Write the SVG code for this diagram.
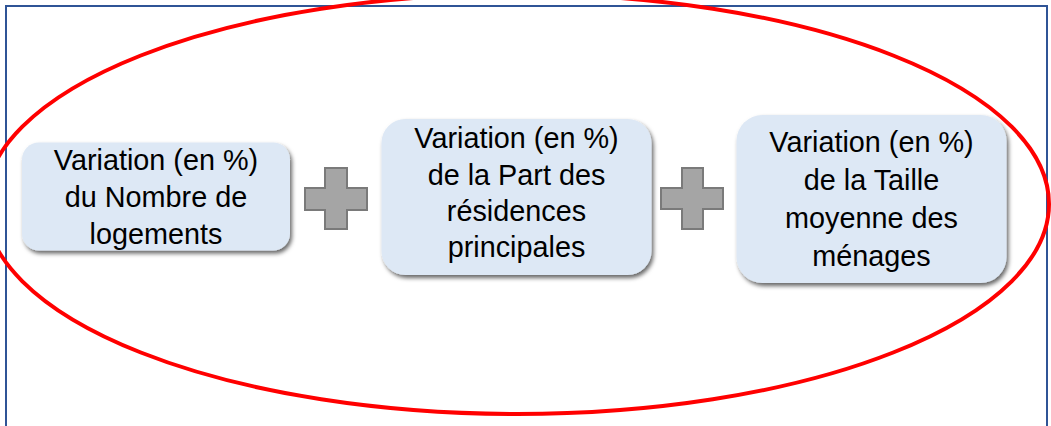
<svg xmlns="http://www.w3.org/2000/svg" width="1051" height="426" viewBox="0 0 1051 426">
  <defs>
    <filter id="shadow" x="-10%" y="-10%" width="125%" height="130%">
      <feDropShadow dx="2" dy="3" stdDeviation="2.2" flood-color="#000" flood-opacity="0.6"/>
    </filter>
  </defs>
  <style>
    .box { fill: #DDE8F5; filter: url(#shadow); }
    .lbl { font-family: "Liberation Sans", Arial, sans-serif; font-size: 28.8px; fill: #000; text-anchor: middle; }
    .plus { fill: #A5A5A5; stroke: #7A7A7A; stroke-width: 2; }
    .frame { fill: none; stroke: #2F5496; stroke-width: 2; }
    .ring { fill: none; stroke: #FF0000; stroke-width: 4; }
  </style>
  <rect x="0" y="0" width="1051" height="426" fill="#FFFFFF"/>
  <rect class="frame" x="6" y="6" width="1041" height="440"/>
  <ellipse class="ring" cx="517" cy="204" rx="532" ry="210"/>

  <g id="node-logements">
    <rect class="box" x="22" y="142.5" width="268" height="108" rx="17" ry="17"/>
    <text class="lbl" x="156" y="170">Variation (en %)</text>
    <text class="lbl" x="156" y="207">du Nombre de</text>
    <text class="lbl" x="156" y="244">logements</text>
  </g>

  <g id="node-residences">
    <rect class="box" x="381.5" y="119" width="270" height="156" rx="24" ry="24"/>
    <text class="lbl" x="516.5" y="148">Variation (en %)</text>
    <text class="lbl" x="516.5" y="184.5">de la Part des</text>
    <text class="lbl" x="516.5" y="221">résidences</text>
    <text class="lbl" x="516.5" y="257">principales</text>
  </g>

  <g id="node-taille">
    <rect class="box" x="736.5" y="115" width="270" height="168" rx="26" ry="26"/>
    <text class="lbl" x="871.5" y="152">Variation (en %)</text>
    <text class="lbl" x="871.5" y="190">de la Taille</text>
    <text class="lbl" x="871.5" y="228">moyenne des</text>
    <text class="lbl" x="871.5" y="266">ménages</text>
  </g>

  <g id="connectors">
    <path class="plus" d="M325,168 H347 V188 H367 V210 H347 V229 H325 V210 H305 V188 H325 Z"/>
    <path class="plus" d="M682,168 H703 V188 H723 V209 H703 V229 H682 V209 H661 V188 H682 Z"/>
  </g>
</svg>
